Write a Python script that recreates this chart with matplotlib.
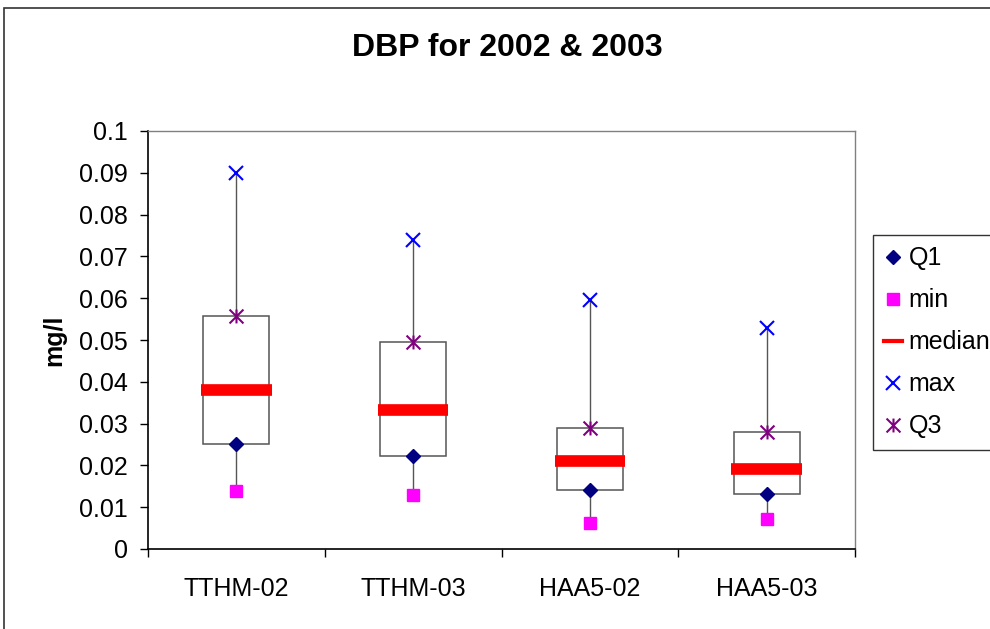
import matplotlib
matplotlib.use("Agg")
import matplotlib.pyplot as plt
from matplotlib.lines import Line2D
from matplotlib.patches import Rectangle
from matplotlib.path import Path
from matplotlib.ticker import FuncFormatter, FixedLocator
import numpy as np

plt.rcParams['font.family'] = ['Liberation Sans', 'DejaVu Sans']

categories = ["TTHM-02", "TTHM-03", "HAA5-02", "HAA5-03"]
q1 = [0.0251, 0.0222, 0.0141, 0.0132]
min_v = [0.0139, 0.0129, 0.0062, 0.0072]
median = [0.0380, 0.0333, 0.0211, 0.0191]
max_v = [0.0900, 0.0739, 0.0596, 0.0529]
q3 = [0.0557, 0.0495, 0.0289, 0.0280]

# excel style star: x with a vertical bar
star = Path([(-0.5, -0.5), (0.5, 0.5), (-0.5, 0.5), (0.5, -0.5), (0, -0.5), (0, 0.5)],
            [Path.MOVETO, Path.LINETO, Path.MOVETO, Path.LINETO, Path.MOVETO, Path.LINETO])

fig = plt.figure(figsize=(9.9, 6.29), dpi=100)
ax = fig.add_axes([148 / 990, 1 - 549 / 629, 707 / 990, 418 / 629])

x = np.arange(len(categories))
q1 = np.array(q1)
q3 = np.array(q3)

ax.vlines(x, min_v, max_v, color='#555555', lw=1.0, zorder=1)
ax.bar(x, q3 - q1, bottom=q1, width=0.373, facecolor='white',
       edgecolor='#555555', linewidth=1.1, zorder=2)
ax.hlines(median, x - 0.2, x + 0.2, color='#FF0000', lw=8.4, zorder=3,
          capstyle='butt')

ax.plot(x, q1, 'D', color='#000080', ms=7, zorder=4, ls='none')
ax.plot(x, min_v, 's', color='#FF00FF', ms=8, zorder=4, ls='none')
ax.plot(x, max_v, 'x', color='#0000FF', ms=10, mew=1.5, zorder=4, ls='none')
ax.plot(x, q3, marker=star, color='#800080', ms=10, mew=1.5, zorder=4, ls='none')

ax.set_xlim(-0.5, 3.5)
ax.set_ylim(0, 0.1)
ax.set_yticks(np.arange(0, 0.1001, 0.01))
ax.yaxis.set_major_formatter(FuncFormatter(lambda v, p: "%g" % round(v, 3)))
ax.tick_params(axis='y', direction='out', length=5.5, width=1, pad=9, labelsize=18)

ax.set_xticks(x)
ax.set_xticklabels(categories)
ax.xaxis.set_minor_locator(FixedLocator(np.arange(-0.5, 3.6, 1.0)))
ax.tick_params(axis='x', which='major', length=0, pad=20, labelsize=18)
ax.tick_params(axis='x', which='minor', direction='out', length=5.5, width=1)

for s in ['left', 'bottom']:
    ax.spines[s].set_color('black')
    ax.spines[s].set_linewidth(1.2)
for s in ['top', 'right']:
    ax.spines[s].set_color('#808080')
    ax.spines[s].set_linewidth(1.0)

fig.text(507 / 990, 1 - 48 / 629, "DBP for 2002 & 2003", fontsize=23,
         fontweight='bold', ha='center', va='center')
fig.text(54 / 990, 1 - 340 / 629, "mg/l", fontsize=18, fontweight='bold',
         rotation=90, ha='center', va='center')

handles = [
    Line2D([], [], marker='D', color='#000080', ms=7, ls='none'),
    Line2D([], [], marker='s', color='#FF00FF', ms=8, ls='none'),
    Line2D([], [], color='#FF0000', lw=3),
    Line2D([], [], marker='x', color='#0000FF', ms=10, mew=1.5, ls='none'),
    Line2D([], [], marker=star, color='#800080', ms=10, mew=1.5, ls='none'),
]
labels = ["Q1", "min", "median", "max", "Q3"]
leg = fig.legend(handles, labels, loc='upper left',
                 bbox_to_anchor=(873 / 990, 1 - 235 / 629), borderaxespad=0,
                 fontsize=18, frameon=True, fancybox=False, handlelength=0.72,
                 handletextpad=0.25, labelspacing=0.72, borderpad=0.45)
leg.get_frame().set_edgecolor('black')
leg.get_frame().set_linewidth(1.0)

# outer chart border
fig.patches.append(Rectangle((4 / 990, -0.1), 2, 1.1 - 8 / 629, transform=fig.transFigure,
                             fill=False, edgecolor='#333333', lw=1.2))

fig.savefig("out.png", dpi=100)
